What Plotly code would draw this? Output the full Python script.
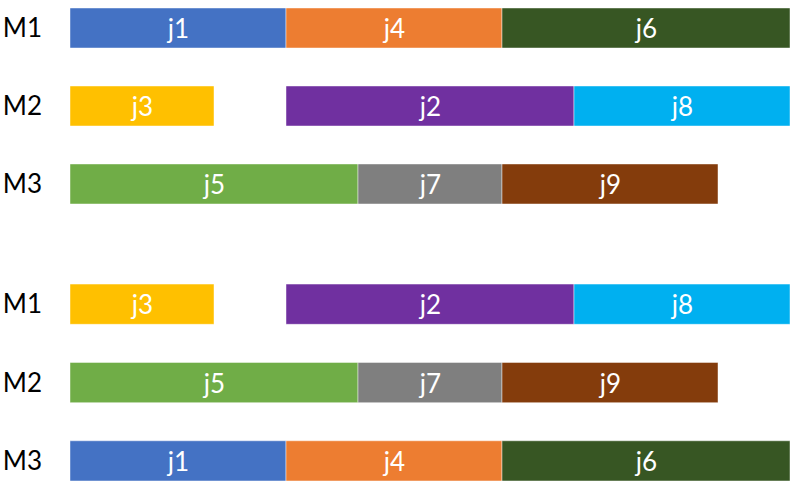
import plotly.graph_objects as go

machines = ["M1", "M2", "M3"]

# Schedule 1 (top)
jobs_top = ["j1", "j4", "j6", "j3", "j2", "j8", "j5", "j7", "j9"]
mach_top = ["M1", "M1", "M1", "M2", "M2", "M2", "M3", "M3", "M3"]
start_top = [0, 3, 6, 0, 3, 7, 0, 4, 6]
dur_top = [3, 3, 4, 2, 4, 3, 4, 2, 3]

# Schedule 2 (bottom)
jobs_bot = ["j3", "j2", "j8", "j5", "j7", "j9", "j1", "j4", "j6"]
mach_bot = ["M1", "M1", "M1", "M2", "M2", "M2", "M3", "M3", "M3"]
start_bot = [0, 3, 7, 0, 4, 6, 0, 3, 6]
dur_bot = [2, 4, 3, 4, 2, 3, 3, 3, 4]

job_colors = {
    "j1": "#4472C4", "j2": "#7030A0", "j3": "#FFC000",
    "j4": "#ED7D31", "j5": "#70AD47", "j6": "#375623",
    "j7": "#7F7F7F", "j8": "#00B0F0", "j9": "#843C0C",
}

FONT = "Lato, 'Open Sans', sans-serif"

fig = go.Figure()

def add_sched(jobs, mach, start, dur, yaxis):
    fig.add_trace(go.Bar(
        orientation="h",
        y=mach, x=dur, base=start,
        text=jobs,
        textposition="inside",
        insidetextanchor="middle",
        textfont=dict(size=26, color="white", family=FONT),
        marker=dict(color=[job_colors[j] for j in jobs],
                    line=dict(color="rgba(255,255,255,0.45)", width=1)),
        width=0.513,
        yaxis=yaxis, xaxis="x",
        showlegend=False,
        hoverinfo="skip",
    ))

add_sched(jobs_top, mach_top, start_top, dur_top, "y")
add_sched(jobs_bot, mach_bot, start_bot, dur_bot, "y2")

yaxis_common = dict(
    type="category", categoryorder="array", categoryarray=machines,
    showgrid=False, zeroline=False, showline=False, ticks="",
    tickfont=dict(size=26, color="black", family=FONT),
    ticklabelstandoff=27, automargin=False,
)

fig.update_layout(
    width=798, height=489,
    margin=dict(l=70, r=8, t=0, b=0),
    plot_bgcolor="white", paper_bgcolor="white",
    barmode="overlay",
    uniformtext=dict(minsize=26, mode="show"),
    xaxis=dict(range=[0, 10], showgrid=False, zeroline=False, automargin=False,
               showticklabels=False, showline=False, ticks=""),
    yaxis=dict(domain=[0.544, 1.0], range=[2.5, -0.359], **yaxis_common),
    yaxis2=dict(domain=[0.0, 0.458], range=[2.359, -0.5], anchor="x", **yaxis_common),
)

fig.write_html(
    "out.html",
    config={"displayModeBar": False, "staticPlot": True},
    post_script="document.body.style.margin='0';document.body.style.overflow='hidden';",
)
